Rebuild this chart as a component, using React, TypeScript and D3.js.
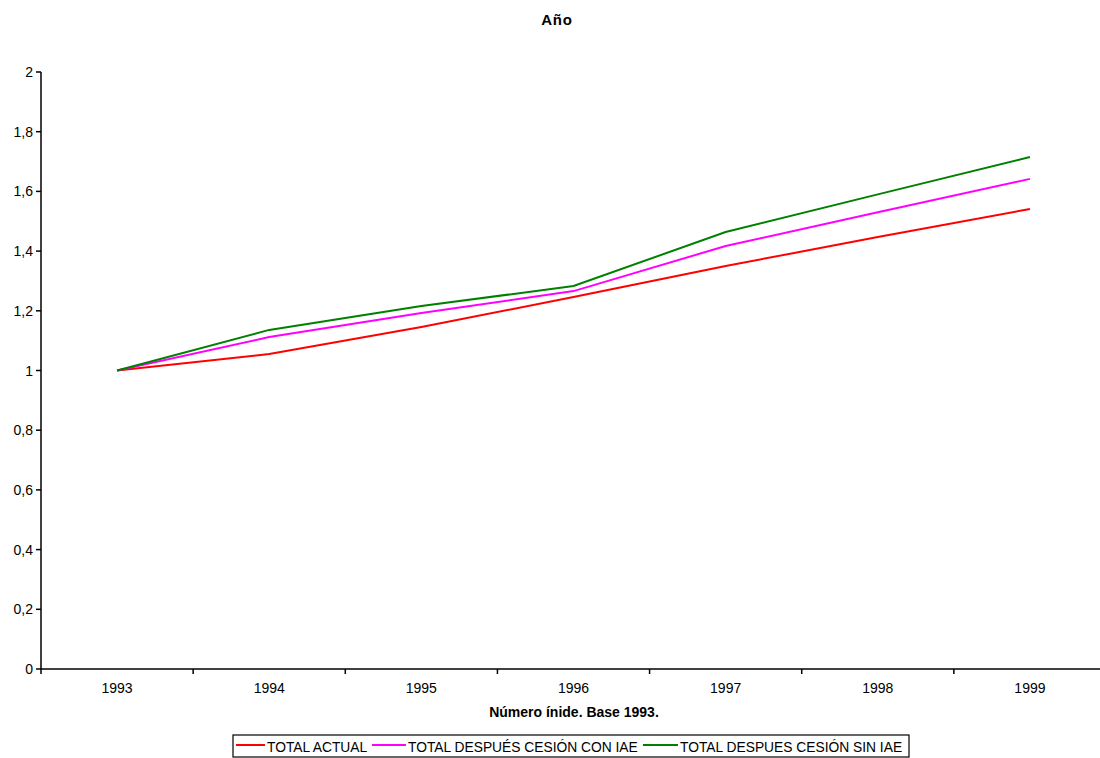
import React from "react";
import * as d3 from "d3";

const years = ["1993", "1994", "1995", "1996", "1997", "1998", "1999"];
const totalActual = [1.0, 1.055, 1.146, 1.246, 1.35, 1.447, 1.541];
const totalConIAE = [1.0, 1.112, 1.193, 1.266, 1.417, 1.53, 1.642];
const totalSinIAE = [1.0, 1.136, 1.216, 1.283, 1.464, 1.59, 1.715];
const yTicks = [0, 0.2, 0.4, 0.6, 0.8, 1, 1.2, 1.4, 1.6, 1.8, 2];

const seriesNames = ["TOTAL ACTUAL", "TOTAL DESPUÉS CESIÓN CON IAE", "TOTAL DESPUES CESIÓN SIN IAE"];
const seriesColors = ["#FF0000", "#FF00FF", "#008000"];

const W = 1100;
const H = 758;
const left = 41;
const right = 1106;
const top = 72;
const bottom = 669;
const font = "Arial, 'Liberation Sans', sans-serif";

export default function App() {
  const x = d3.scaleBand<string>().domain(years).range([left, right]).padding(0);
  const y = d3.scaleLinear().domain([0, 2]).range([bottom, top]);
  const cx = (yr: string) => (x(yr) as number) + x.bandwidth() / 2;
  const line = d3
    .line<number>()
    .x((_, i) => cx(years[i]))
    .y((v) => y(v));
  const allSeries = [totalActual, totalConIAE, totalSinIAE];
  const boundaries = years.map((yr) => x(yr) as number).concat([right]);

  // legend layout
  const legX = 233;
  const legY = 735;
  const lineStart = [236, 372, 643];
  const textStart = [267, 408, 680];

  return (
    <svg
      width={W}
      height={H}
      style={{ position: "absolute", left: 0, top: 0, background: "#fff" }}
      fontFamily={font}
    >
      <text x={557} y={25} textAnchor="middle" fontSize={15} fontWeight="bold" letterSpacing={0.8}>
        Año
      </text>

      {/* value axis */}
      <line x1={left} x2={left} y1={top} y2={bottom} stroke="#000" strokeWidth={1.5} />
      {yTicks.map((t) => (
        <g key={t}>
          <line x1={left - 5} x2={left} y1={y(t)} y2={y(t)} stroke="#000" strokeWidth={1.5} />
          <text x={left - 8} y={y(t) + 5} textAnchor="end" fontSize={14}>
            {d3.format(",")(t).replace(".", ",")}
          </text>
        </g>
      ))}

      {/* category axis */}
      <line x1={left} x2={right} y1={bottom} y2={bottom} stroke="#000" strokeWidth={1.5} />
      {boundaries.map((b, i) => (
        <line key={i} x1={b} x2={b} y1={bottom} y2={bottom + 5} stroke="#000" strokeWidth={1.5} />
      ))}
      {years.map((yr) => (
        <text key={yr} x={cx(yr)} y={bottom + 24} textAnchor="middle" fontSize={14}>
          {yr}
        </text>
      ))}
      <text x={574} y={717} textAnchor="middle" fontSize={14} fontWeight="bold">
        Número ínide. Base 1993.
      </text>

      {/* series */}
      {allSeries.map((s, i) => (
        <path key={i} d={line(s) || ""} fill="none" stroke={seriesColors[i]} strokeWidth={2} />
      ))}

      {/* legend */}
      <rect x={legX} y={legY} width={676} height={22} fill="#fff" stroke="#000" strokeWidth={1.2} />
      {seriesNames.map((n, i) => (
        <g key={n}>
          <line
            x1={lineStart[i]}
            x2={textStart[i] - 2}
            y1={legY + 10}
            y2={legY + 10}
            stroke={seriesColors[i]}
            strokeWidth={2}
          />
          <text x={textStart[i]} y={legY + 17} fontSize={13.8}>
            {n}
          </text>
        </g>
      ))}
    </svg>
  );
}
